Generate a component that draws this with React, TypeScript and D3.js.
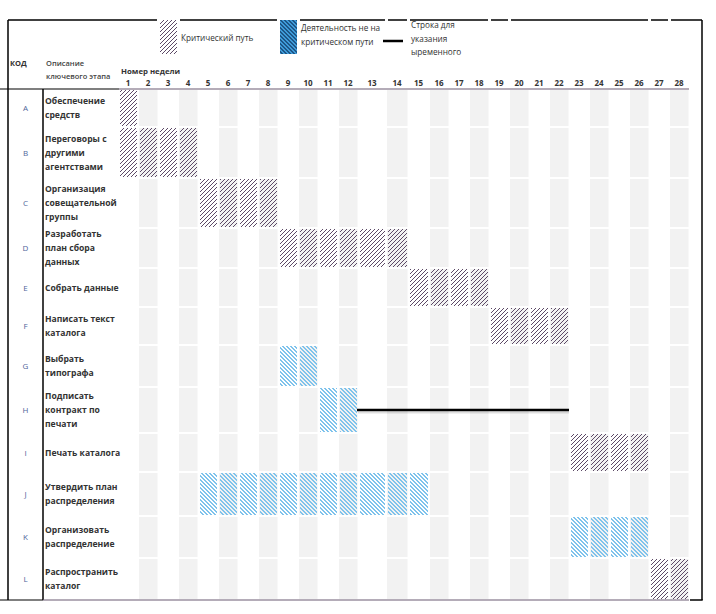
import React from "react";
import * as d3 from "d3";

// данные графика
const codes = ["A", "B", "C", "D", "E", "F", "G", "H", "I", "J", "K", "L"];
const descriptions = [
  ["Обеспечение", "средств"],
  ["Переговоры с", "другими", "агентствами"],
  ["Организация", "совещательной", "группы"],
  ["Разработать", "план сбора", "данных"],
  ["Собрать данные"],
  ["Написать текст", "каталога"],
  ["Выбрать", "типографа"],
  ["Подписать", "контракт по", "печати"],
  ["Печать каталога"],
  ["Утвердить план", "распределения"],
  ["Организовать", "распределение"],
  ["Распространить", "каталог"],
];
const startWeek = [1, 1, 5, 9, 15, 19, 9, 11, 23, 5, 23, 27];
const endWeek = [1, 4, 8, 14, 18, 22, 10, 12, 26, 15, 26, 28];
const critical = [true, true, true, true, true, true, false, false, true, false, false, true];
// строка временного резерва (H)
const slackRow = 7;
const slackStart = 13;
const slackEnd = 22;
const weeks = d3.range(1, 29);

// раскладка сетки (как в листе Excel)
const colWidths = weeks.map((w) => (w === 13 ? 28 : w === 14 ? 22 : w === 15 ? 21 : 20));
const rowHeights = [38, 51, 50, 40, 39, 38, 42, 46, 39, 44, 42, 42];
const gridLeft = 118;
const gridTop = 89;

const xBounds = [gridLeft, ...Array.from(d3.cumsum(colWidths), (v) => gridLeft + v)];
const yBounds = [gridTop, ...Array.from(d3.cumsum(rowHeights), (v) => gridTop + v)];
const x = d3.scaleLinear().domain(d3.range(1, 30)).range(xBounds);
const y = d3.scaleLinear().domain(d3.range(0, 13)).range(yBounds);

const W = 716;
const H = 614;
const gridRight = x(29);
const bottom = y(12);
const font = "'Open Sans', 'Noto Sans', sans-serif";
const purple = "#6b5b72";

const App = () => {
  const critPix = [[3, 0], [2, 1], [1, 2], [0, 3]];
  const bluePix = [[0, 0], [1, 0], [1, 1], [2, 1], [2, 2], [3, 2], [3, 3], [0, 3]];
  const topGaps = [
    [x(3) - 1, x(4) + 2],
    [x(9) - 1, x(10) + 2],
    ...[14, 15, 19, 20, 27, 28].map((w) => [x(w) - 1, x(w) + 2]),
  ];

  return (
    <svg
      width={W}
      height={H}
      style={{ position: "absolute", left: 0, top: 0, background: "#fff" }}
      fontFamily={font}
    >
      <defs>
        <pattern id="crit" patternUnits="userSpaceOnUse" width={4} height={4}>
          {critPix.map(([px, py], i) => (
            <rect key={i} x={px} y={py} width={1} height={1} fill="#5d4a67" />
          ))}
        </pattern>
        <pattern id="blue" patternUnits="userSpaceOnUse" width={4} height={4}>
          {bluePix.map(([px, py], i) => (
            <rect key={i} x={px} y={py} width={1} height={1} fill="#7fc3ec" />
          ))}
        </pattern>
        <pattern id="blueDark" patternUnits="userSpaceOnUse" width={4} height={4}>
          <rect width={4} height={4} fill="#3f9bd9" />
          {bluePix.map(([px, py], i) => (
            <rect key={i} x={px} y={py} width={1} height={1} fill="#1d5687" />
          ))}
        </pattern>
      </defs>

      {/* серые чётные столбцы */}
      {codes.map((c, i) =>
        weeks
          .filter((w) => w % 2 === 0)
          .map((w) => (
            <rect
              key={c + w}
              x={x(w) + 1}
              y={y(i) + 1}
              width={x(w + 1) - x(w) - 1.5}
              height={y(i + 1) - y(i) - 2}
              fill="#f2f2f2"
            />
          ))
      )}

      {/* бары по неделям */}
      {codes.map((c, i) =>
        d3.range(startWeek[i], endWeek[i] + 1).map((w) => (
          <rect
            key={"b" + c + w}
            x={x(w) + 2}
            y={y(i) + 1}
            width={x(w + 1) - x(w) - 3}
            height={y(i + 1) - y(i) - 2}
            fill={critical[i] ? "url(#crit)" : "url(#blue)"}
          />
        ))
      )}

      {/* линия временного резерва */}
      <line
        x1={x(slackStart)}
        x2={x(slackEnd + 1)}
        y1={(y(slackRow) + y(slackRow + 1)) / 2 + 2.5}
        y2={(y(slackRow) + y(slackRow + 1)) / 2 + 2.5}
        stroke="#000"
        strokeOpacity={0.12}
        strokeWidth={2}
      />
      <line
        x1={x(slackStart) - 1}
        x2={x(slackEnd + 1)}
        y1={(y(slackRow) + y(slackRow + 1)) / 2}
        y2={(y(slackRow) + y(slackRow + 1)) / 2}
        stroke="#000"
        strokeWidth={2.5}
      />

      {/* рамки */}
      <line x1={8} x2={702} y1={20} y2={20} stroke="#000" strokeWidth={1.5} />
      {topGaps.map(([a, b], i) => (
        <rect key={"g" + i} x={a} y={18} width={b - a} height={4} fill="#fff" />
      ))}
      <line x1={8} x2={8} y1={20} y2={bottom} stroke="#000" strokeWidth={1.5} />
      <line x1={702} x2={702} y1={20} y2={bottom} stroke="#000" strokeWidth={1.5} />
      <line x1={43} x2={43} y1={gridTop} y2={bottom} stroke="#000" strokeWidth={1.5} />
      <line x1={0} x2={gridLeft + 1} y1={gridTop} y2={gridTop} stroke="#000" strokeWidth={1.2} />
      <line x1={gridLeft + 1} x2={gridRight} y1={gridTop} y2={gridTop} stroke={purple} strokeWidth={1.2} />
      <line x1={0} x2={43} y1={bottom} y2={bottom} stroke="#000" strokeWidth={1.2} />
      <line x1={43} x2={gridRight} y1={bottom} y2={bottom} stroke={purple} strokeWidth={1.2} />
      <line x1={gridRight + 1} x2={702.7} y1={bottom} y2={bottom} stroke="#000" strokeWidth={1.5} />

      {/* легенда */}
      <rect x={x(3) + 2} y={20} width={x(4) - x(3) - 3} height={34} fill="url(#crit)" />
      <text x={181} y={41} fontSize={8.2} fill="#333">Критический путь</text>
      <rect x={x(9) + 2} y={20} width={x(10) - x(9) - 3} height={34} fill="url(#blueDark)" />
      <text x={301} y={31} fontSize={8.2} fill="#333">Деятельность не на</text>
      <text x={301} y={45} fontSize={8.2} fill="#333">критическом пути</text>
      <line x1={383} x2={403} y1={41} y2={41} stroke="#000" strokeWidth={2.5} />
      <text fontSize={8.2} fill="#333">
        <tspan x={411} y={28}>Строка для</tspan>
        <tspan x={411} y={42}>указания</tspan>
        <tspan x={411} y={55}>ыременного</tspan>
      </text>

      {/* заголовки */}
      <text x={10} y={66} fontSize={7.5} fontWeight="bold" fill="#333">КОД</text>
      <text fontSize={7.5} fill="#444" fontWeight={600}>
        <tspan x={46} y={66}>Описание</tspan>
        <tspan x={46} y={79}>ключевого этапа</tspan>
      </text>
      <text x={121} y={74} fontSize={7.8} fontWeight="bold" fill="#333">Номер недели</text>
      {weeks.map((w) => (
        <text
          key={"w" + w}
          x={(x(w) + x(w + 1)) / 2}
          y={86}
          fontSize={8}
          fontWeight="bold"
          fill="#333"
          textAnchor="middle"
        >
          {w}
        </text>
      ))}

      {/* коды и описания */}
      {codes.map((c, i) => {
        const cy = (y(i) + y(i + 1)) / 2;
        const lines = descriptions[i];
        const first = cy - ((lines.length - 1) * 14) / 2;
        return (
          <g key={"t" + c}>
            <text x={25.5} y={cy + 3} fontSize={8} fill="#50669a" textAnchor="middle">
              {c}
            </text>
            <text fontSize={8.6} fontWeight="bold" fill="#333">
              {lines.map((ln, j) => (
                <tspan key={j} x={45} y={first + j * 14 + 3.2}>
                  {ln}
                </tspan>
              ))}
            </text>
          </g>
        );
      })}
    </svg>
  );
};

export default App;
